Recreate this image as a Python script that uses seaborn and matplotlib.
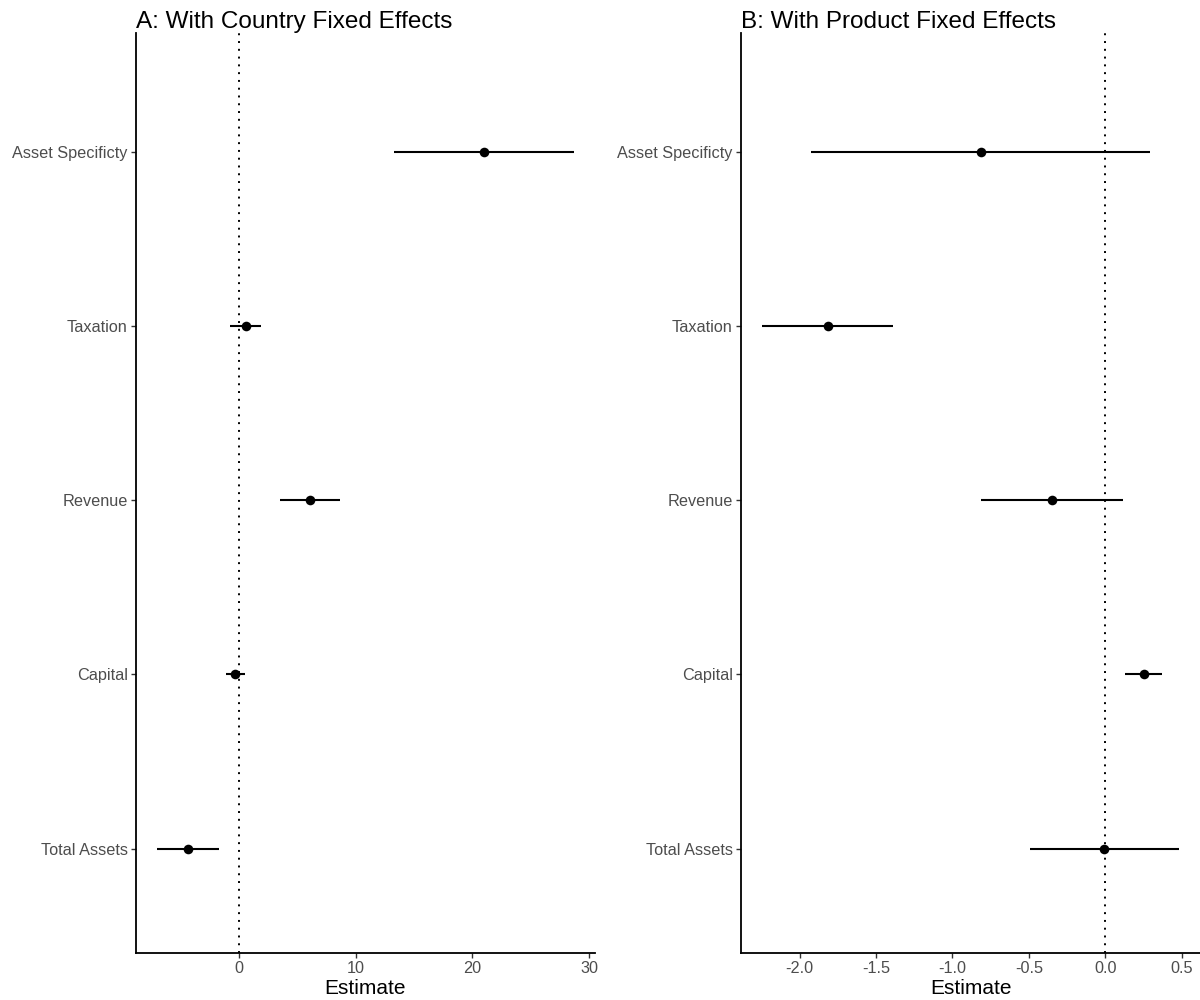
import numpy as np
import pandas as pd
import seaborn as sns
import matplotlib.pyplot as plt

# Degiskenler (ustten alta)
terms = ["Asset Specificty", "Taxation", "Revenue", "Capital", "Total Assets"]

# A: ulke sabit etkileri
est_a = [21.0, 0.57, 6.08, -0.31, -4.37]
lo_a = [13.28, -0.80, 3.55, -1.14, -7.03]
hi_a = [28.70, 1.92, 8.63, 0.49, -1.71]

# B: urun sabit etkileri
est_b = [-0.814, -1.817, -0.349, 0.253, -0.005]
lo_b = [-1.924, -2.247, -0.816, 0.131, -0.491]
hi_b = [0.295, -1.387, 0.118, 0.373, 0.484]

ticks_a = [0, 10, 20, 30]
ticks_b = [-2.0, -1.5, -1.0, -0.5, 0.0, 0.5]

sns.set_theme(style="ticks")
plt.rcParams['font.family'] = ['Liberation Sans', 'DejaVu Sans']

fig = plt.figure(figsize=(12, 10), dpi=100)
ax_a = fig.add_axes([0.1133, 0.047, 0.3825, 0.92])
ax_b = fig.add_axes([0.6175, 0.047, 0.3825, 0.92])


def coef_panel(ax, est, lo, hi, ticks, title, xfmt):
    df = pd.DataFrame({"term": terms, "est": est, "lo": lo, "hi": hi})
    df["pos"] = np.arange(len(terms))
    ax.axvline(0, color="black", linestyle=(0, (1, 3)), linewidth=1.4, zorder=1)
    ax.hlines(df["pos"], df["lo"], df["hi"], color="black", linewidth=1.5, zorder=2)
    sns.scatterplot(data=df, x="est", y="pos", ax=ax, color="black", s=48,
                    edgecolor="black", linewidth=0, zorder=3)
    span = max(hi) - min(lo)
    ax.set_xlim(min(lo) - 0.05 * span, max(hi) + 0.05 * span)
    ax.set_ylim(4.6, -0.685)
    ax.set_yticks(df["pos"])
    ax.set_yticklabels(terms)
    ax.set_xticks(ticks)
    ax.set_xticklabels([xfmt.format(t) for t in ticks])
    ax.tick_params(axis="both", colors="#333333", labelcolor="#4D4D4D",
                   labelsize=11.7, length=3.5, width=1.0, pad=2.5)
    for s in ["top", "right"]:
        ax.spines[s].set_visible(False)
    for s in ["left", "bottom"]:
        ax.spines[s].set_linewidth(1.3)
        ax.spines[s].set_color("black")
    ax.set_ylabel("")
    ax.set_xlabel("Estimate", fontsize=15, color="black", labelpad=2)
    ax.set_title(title, loc="left", fontsize=17.5, color="black", pad=2)


coef_panel(ax_a, est_a, lo_a, hi_a, ticks_a, "A: With Country Fixed Effects", "{:.0f}")
coef_panel(ax_b, est_b, lo_b, hi_b, ticks_b, "B: With Product Fixed Effects", "{:.1f}")

fig.savefig("out.png", dpi=100)
